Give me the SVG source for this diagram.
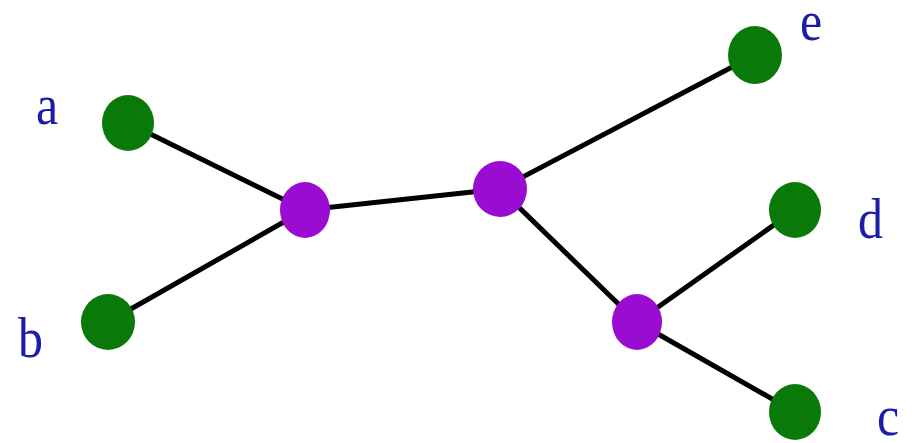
<svg xmlns="http://www.w3.org/2000/svg" width="920" height="443" viewBox="0 0 920 443">
<style>
.leaf{fill:#097a09}
.inner{fill:#9a0cd2}
.edge{stroke:#000;stroke-width:5;stroke-linecap:round}
.lbl{font-family:"Liberation Serif","Times New Roman",serif;font-size:50px;fill:#1c1ca6}
</style>
<rect width="920" height="443" fill="#fff"/>
<g id="connectors">
<line class="edge" x1="128" y1="123" x2="305" y2="210"/>
<line class="edge" x1="108" y1="322" x2="305" y2="210"/>
<line class="edge" x1="305" y1="210" x2="500" y2="189"/>
<line class="edge" x1="500" y1="189" x2="755" y2="55"/>
<line class="edge" x1="500" y1="189" x2="637" y2="322"/>
<line class="edge" x1="637" y1="322" x2="795" y2="210"/>
<line class="edge" x1="637" y1="322" x2="795" y2="412"/>
</g>
<g id="node-a"><ellipse class="leaf" cx="128" cy="123" rx="26" ry="28"/><text class="lbl" transform="translate(36,124) scale(1,1.15)">a</text></g>
<g id="node-b"><ellipse class="leaf" cx="108" cy="322" rx="27" ry="28"/><text class="lbl" transform="translate(18,357) scale(1,1.15)">b</text></g>
<g id="node-p1"><ellipse class="inner" cx="305" cy="210" rx="25" ry="28"/></g>
<g id="node-p2"><ellipse class="inner" cx="500" cy="189" rx="27" ry="28"/></g>
<g id="node-p3"><ellipse class="inner" cx="637" cy="322" rx="25" ry="28"/></g>
<g id="node-e"><ellipse class="leaf" cx="755" cy="55" rx="27" ry="29"/><text class="lbl" transform="translate(800,40) scale(1,1.15)">e</text></g>
<g id="node-d"><ellipse class="leaf" cx="795" cy="210" rx="26" ry="28"/><text class="lbl" transform="translate(858,238) scale(1,1.15)">d</text></g>
<g id="node-c"><ellipse class="leaf" cx="795" cy="412" rx="26" ry="28"/><text class="lbl" transform="translate(877,435) scale(1,1.15)">c</text></g>
</svg>
